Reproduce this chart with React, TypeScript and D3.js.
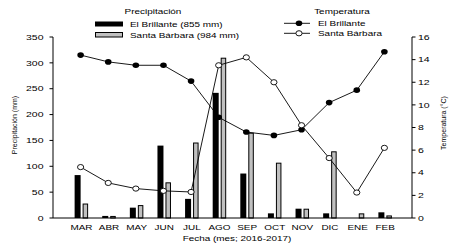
import React from "react";
import * as d3 from "d3";

const months = ["MAR", "ABR", "MAY", "JUN", "JUL", "AGO", "SEP", "OCT", "NOV", "DIC", "ENE", "FEB"];
const precipBrillante = [83, 4, 20, 140, 37, 242, 86, 9, 18, 9, 0, 11];
const precipSantaBarbara = [27, 3, 24, 68, 145, 309, 164, 106, 17, 128, 8, 4];
const tempBrillante = [14.4, 13.8, 13.5, 13.5, 12.1, 8.9, 7.6, 7.3, 7.8, 10.2, 11.3, 14.7];
const tempSantaBarbara = [4.5, 3.1, 2.6, 2.4, 2.3, 13.5, 14.2, 12.0, 8.2, 5.3, 2.25, 6.2];
const precipTicks = [0, 50, 100, 150, 200, 250, 300, 350];
const tempTicks = [0, 2, 4, 6, 8, 10, 12, 14, 16];

const FONT = "'Liberation Sans', Arial, sans-serif";
const SX = 1.42;

function SText({ x, y, anchor = "start", size = 7.4, children }: any) {
  return (
    <g transform={`translate(${x},${y}) scale(${SX},1)`}>
      <text x={0} y={0} textAnchor={anchor} fontSize={size} fontFamily={FONT} fill="#000">
        {children}
      </text>
    </g>
  );
}

export default function App() {
  const W = 472, H = 249;
  const left = 53, right = 412, top = 37, bottom = 218;
  const x = d3.scalePoint<string>().domain(months).range([left, right]).padding(1);
  const yP = d3.scaleLinear().domain([0, 350]).range([bottom, top]);
  const yT = d3.scaleLinear().domain([0, 16]).range([bottom, top]);

  const line = (vals: number[]) =>
    d3.line<number>().x((_, i) => x(months[i])!).y((v) => yT(v))(vals) || "";

  return (
    <svg width={W} height={H} style={{ position: "absolute", left: 0, top: 0, background: "#fff" }}>
      <rect width={W} height={H} fill="#fff" />
      {/* bars */}
      {months.map((m, i) => {
        const c = x(m)!;
        return (
          <g key={m}>
            <rect x={c - 6} y={yP(precipBrillante[i])} width={6} height={bottom - yP(precipBrillante[i])} fill="#000" />
            <rect x={c + 2.5} y={yP(precipSantaBarbara[i])} width={4.5} height={bottom - yP(precipSantaBarbara[i])} fill="#c0c0c0" stroke="#000" strokeWidth={1} />
          </g>
        );
      })}
      {/* lines */}
      <path d={line(tempBrillante)} fill="none" stroke="#000" strokeWidth={0.9} />
      <path d={line(tempSantaBarbara)} fill="none" stroke="#000" strokeWidth={0.9} />
      {tempBrillante.map((v, i) => (
        <ellipse key={"b" + i} cx={x(months[i])!} cy={yT(v)} rx={3.3} ry={2.8} fill="#000" />
      ))}
      {tempSantaBarbara.map((v, i) => (
        <ellipse key={"s" + i} cx={x(months[i])!} cy={yT(v)} rx={3.1} ry={2.6} fill="#fff" stroke="#000" strokeWidth={0.9} />
      ))}
      {/* axes */}
      <line x1={left} x2={left} y1={top} y2={bottom} stroke="#000" strokeWidth={1} />
      <line x1={right} x2={right} y1={top} y2={bottom} stroke="#000" strokeWidth={1} />
      <line x1={left} x2={right} y1={bottom} y2={bottom} stroke="#000" strokeWidth={1} />
      {precipTicks.map((t) => (
        <g key={"pt" + t}>
          <line x1={left - 3.5} x2={left} y1={yP(t)} y2={yP(t)} stroke="#000" strokeWidth={1} />
          <SText x={43.5} y={yP(t) + 2.7} anchor="end">{t}</SText>
        </g>
      ))}
      {tempTicks.map((t) => (
        <g key={"tt" + t}>
          <line x1={right} x2={right + 3.5} y1={yT(t)} y2={yT(t)} stroke="#000" strokeWidth={1} />
          <SText x={418} y={yT(t) + 2.7} anchor="start">{t}</SText>
        </g>
      ))}
      {months.map((m) => (
        <SText key={"xl" + m} x={x(m)! + 0.8} y={230} anchor="middle" size={7}>{m}</SText>
      ))}
      <SText x={237} y={240.5} anchor="middle" size={7}>Fecha (mes; 2016-2017)</SText>
      <text transform="translate(17,125) rotate(-90)" textAnchor="middle" fontSize={7} fontFamily={FONT}>Precipitación (mm)</text>
      <text transform="translate(446,123) rotate(-90)" textAnchor="middle" fontSize={7} fontFamily={FONT}>Temperatura (°C)</text>
      {/* legends */}
      <SText x={153} y={14} anchor="middle" size={7}>Precipitación</SText>
      <rect x={95} y={21.5} width={28} height={5} fill="#000" />
      <SText x={130} y={26.5} size={7}>El Brillante (855 mm)</SText>
      <rect x={95.5} y={32.5} width={27} height={4.5} fill="#c0c0c0" stroke="#000" strokeWidth={1} />
      <SText x={130} y={37.5} size={7}>Santa Bárbara (984 mm)</SText>

      <SText x={342} y={13.5} anchor="middle" size={7}>Temperatura</SText>
      <line x1={284} x2={310} y1={23.3} y2={23.3} stroke="#000" strokeWidth={0.9} />
      <ellipse cx={299} cy={23.3} rx={3.3} ry={2.8} fill="#000" />
      <SText x={318} y={26} size={7}>El Brillante</SText>
      <line x1={284} x2={310} y1={33.3} y2={33.3} stroke="#000" strokeWidth={0.9} />
      <ellipse cx={299} cy={33.3} rx={3.1} ry={2.6} fill="#fff" stroke="#000" strokeWidth={0.9} />
      <SText x={318} y={36} size={7}>Santa Bárbara</SText>
    </svg>
  );
}
